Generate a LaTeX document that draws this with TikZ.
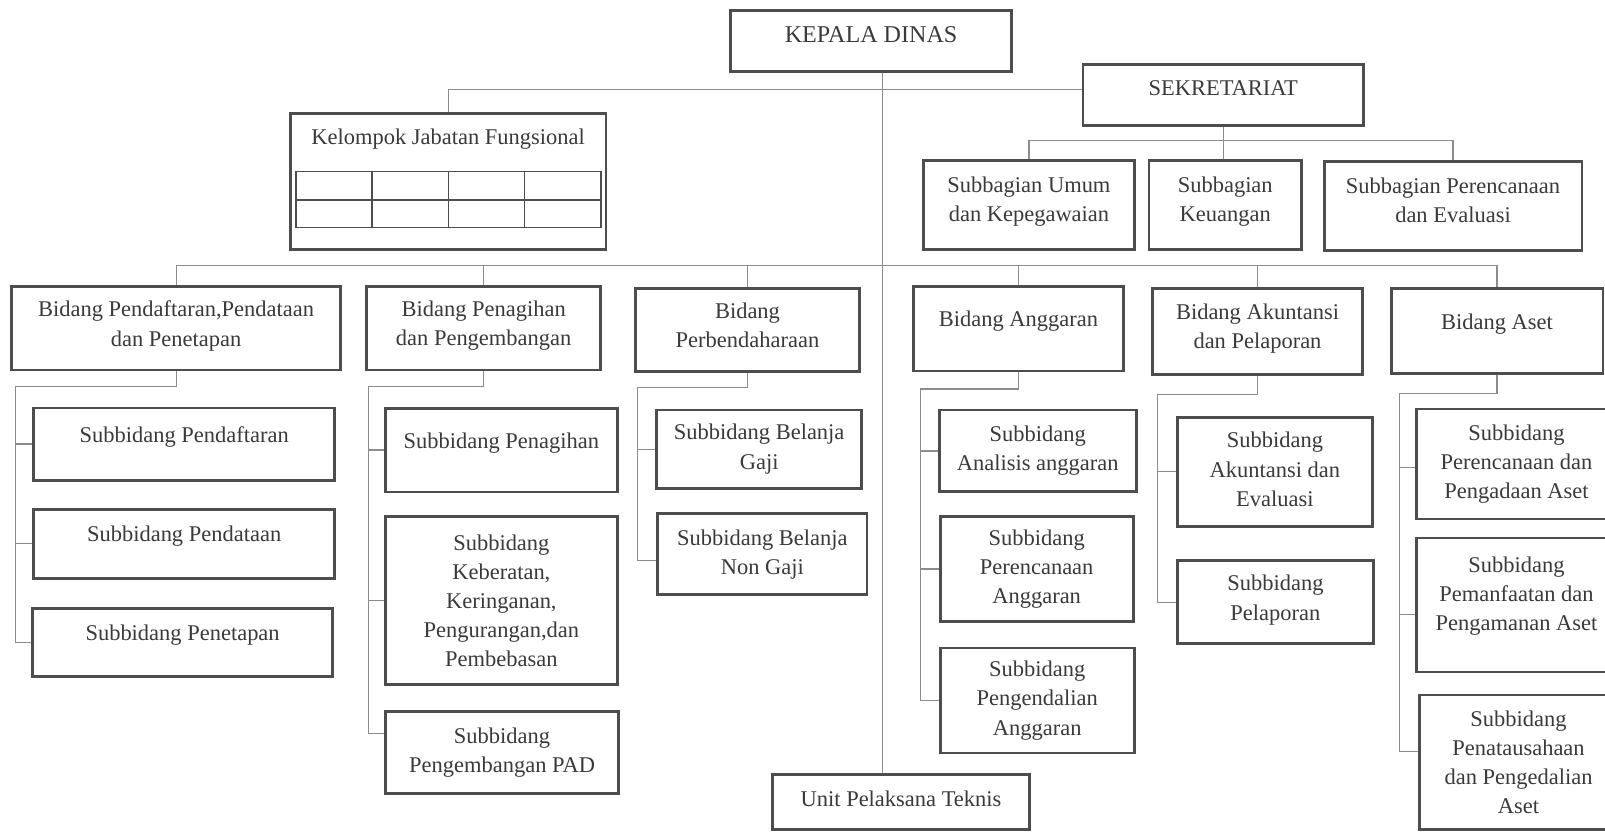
\documentclass[tikz,border=0pt]{standalone}
\usepackage{fontspec}
\setmainfont{Liberation Serif}
\definecolor{boxgray}{HTML}{4D4D4D}
\definecolor{inkgray}{HTML}{3A3A3A}
\definecolor{linkgray}{HTML}{8C8C8C}
\begin{document}
\begin{tikzpicture}[x=0.02cm, y=-0.02cm,
        unit/.style={draw=boxgray, line width=1.6pt, text=inkgray, align=center, inner sep=0pt,
            font=\fontsize{12.5}{16.2}\selectfont},
        boxsize/.style 2 args={minimum width=#1cm, minimum height=#2cm},
        lift/.style={text depth=#1},
        link/.style={draw=linkgray, line width=0.6pt}]
        \path[use as bounding box, fill=white] (0, 0) rectangle (1568, 813);

        % top
        \node[unit, boxsize={5.48}{1.2}, lift=7.3pt, font=\fontsize{13.4}{16}\selectfont] (kd) at (851, 40) {KEPALA DINAS};
        \node[unit, boxsize={5.48}{1.2}, lift=8.4pt] (sek) at (1195, 93) {SEKRETARIAT};
        \node[unit, boxsize={6.17}{2.67}, lift=49.6pt] (kjf) at (437.75, 177.25) {Kelompok Jabatan Fungsional};
        \draw[draw=boxgray, line width=0.8pt] (289, 167.7) rectangle (587, 222.4) (289, 195.4) -- (587, 195.4);
        \foreach \x in {363.5, 438, 512.2}
            \draw[draw=boxgray, line width=0.8pt] (\x, 167.7) -- (\x, 222.4);

        \node[unit, boxsize={4.13}{1.74}, lift=6.6pt] (sbu) at (1005.25, 200.5) {Subbagian Umum\\dan Kepegawaian};
        \node[unit, boxsize={2.98}{1.74}, lift=6.6pt] (sbk) at (1197, 200.5) {Subbagian\\Keuangan};
        \node[unit, boxsize={5.04}{1.74}, lift=6.6pt] (sbp) at (1419.5, 201.5) {Subbagian Perencanaan\\dan Evaluasi};

        % bidang
        \node[unit, boxsize={6.44}{1.64}, lift=5pt] (b1) at (172, 320.5) {Bidang Pendaftaran,Pendataan\\dan Penetapan};
        \node[unit, boxsize={4.58}{1.64}, lift=5pt] (b2) at (472.5, 320.5) {Bidang Penagihan\\dan Pengembangan};
        \node[unit, boxsize={4.39}{1.62}, lift=5pt] (b3) at (730.25, 322.5) {Bidang\\Perbendaharaan};
        \node[unit, boxsize={4.12}{1.66}, lift=10.6pt] (b4) at (995, 321) {Bidang Anggaran};
        \node[unit, boxsize={4.1}{1.67}, lift=6pt] (b5) at (1228.5, 323.75) {Bidang Akuntansi\\dan Pelaporan};
        \node[unit, boxsize={4.14}{1.65}, lift=10.6pt] (b6) at (1462.5, 323.25) {Bidang Aset};

        % subbidang
        \node[unit, boxsize={5.88}{1.41}, lift=10.6pt] (s11) at (180, 433.8) {Subbidang Pendaftaran};
        \node[unit, boxsize={5.88}{1.35}, lift=10.6pt] (s12) at (179.9, 531.15) {Subbidang Pendataan};
        \node[unit, boxsize={5.86}{1.32}, lift=10.6pt] (s13) at (178.4, 627.55) {Subbidang Penetapan};
        \node[unit, boxsize={4.53}{1.64}, lift=10pt] (s21) at (489.8, 439.65) {Subbidang Penagihan};
        \node[unit, boxsize={4.53}{3.28}] (s22) at (489.8, 586.9) {Subbidang\\Keberatan,\\Keringanan,\\Pengurangan,dan\\Pembebasan};
        \node[unit, boxsize={4.54}{1.61}] (s23) at (490.5, 735.35) {Subbidang\\Pengembangan PAD};
        \node[unit, boxsize={4.01}{1.53}] (s31) at (741.7, 438.75) {Subbidang Belanja\\Gaji};
        \node[unit, boxsize={4.09}{1.58}] (s32) at (744.75, 541.5) {Subbidang Belanja\\Non Gaji};
        \node[unit, boxsize={3.85}{1.6}] (s41) at (1013.75, 440.6) {Subbidang\\Analisis anggaran};
        \node[unit, boxsize={3.77}{2.04}] (s42) at (1012.75, 555.9) {Subbidang\\Perencanaan\\Anggaran};
        \node[unit, boxsize={3.79}{2.05}] (s43) at (1013.25, 684.35) {Subbidang\\Pengendalian\\Anggaran};
        \node[unit, boxsize={3.82}{2.14}, lift=3pt] (s51) at (1245.5, 461.05) {Subbidang\\Akuntansi dan\\Evaluasi};
        \node[unit, boxsize={3.84}{1.63}, lift=5pt] (s52) at (1246, 588.35) {Subbidang\\Pelaporan};
        \node[unit, boxsize={3.9}{2.15}] (s61) at (1481.5, 453.3) {Subbidang\\Perencanaan dan\\Pengadaan Aset};
        \node[unit, boxsize={3.9}{2.62}, lift=12.2pt] (s62) at (1481.5, 591.05) {Subbidang\\Pemanfaatan dan\\Pengamanan Aset};
        \node[unit, boxsize={3.86}{2.62}] (s63) at (1483.5, 744.5) {Subbidang\\Penatausahaan\\dan Pengedalian\\Aset};
        \node[unit, boxsize={5.01}{1.06}, lift=3.3pt] (upt) at (880.25, 783.5) {Unit Pelaksana Teknis};

        % lines
        \coordinate (spine) at (862, 0);
        \coordinate (lv1) at (862, 87);
        \coordinate (lv2) at (1195, 137);
        \coordinate (lv3) at (862, 259);
        \draw[link] (kd.south -| spine) -- (upt.north -| spine);
        \draw[link] (kjf.north) |- (lv1) -- (lv1 -| sek.west);
        \draw[link] (sek.south) -- (sek.south |- sbk.north);
        \draw[link] (sbu.north) |- (lv2) -| (sbp.north);
        \draw[link] (b1.north) |- (lv3) -| (b6.north);
        \foreach \b in {b2, b3, b4, b5}
            \draw[link] (\b.north) -- (\b.north |- lv3);

        \coordinate (r1) at (15, 378);
        \coordinate (r2) at (360, 378);
        \coordinate (r3) at (623, 379);
        \coordinate (r4) at (899, 380);
        \coordinate (r5) at (1131, 385);
        \coordinate (r6) at (1367.5, 384);
        \draw[link] (b1.south) |- (r1) |- (s11.west);
        \draw[link] (r1) |- (s12.west);
        \draw[link] (r1) |- (s13.west);
        \draw[link] (b2.south) |- (r2) |- (s21.west);
        \draw[link] (r2) |- (s22.west);
        \draw[link] (r2) |- ([yshift=0.38cm]s23.west);
        \draw[link] (b3.south) |- (r3) |- (s31.west);
        \draw[link] (r3) |- ([yshift=-0.13cm]s32.west);
        \draw[link] (b4.south) |- (r4) |- (s41.west);
        \draw[link] (r4) |- (s42.west);
        \draw[link] (r4) |- (s43.west);
        \draw[link] (b5.south) |- (r5) |- (s51.west);
        \draw[link] (r5) |- (s52.west);
        \draw[link] (b6.south) |- (r6) |- ([yshift=-0.07cm]s61.west);
        \draw[link] (r6) |- ([yshift=-0.18cm]s62.west);
        \draw[link] (r6) |- ([yshift=0.21cm]s63.west);

    \end{tikzpicture}
\end{document}
